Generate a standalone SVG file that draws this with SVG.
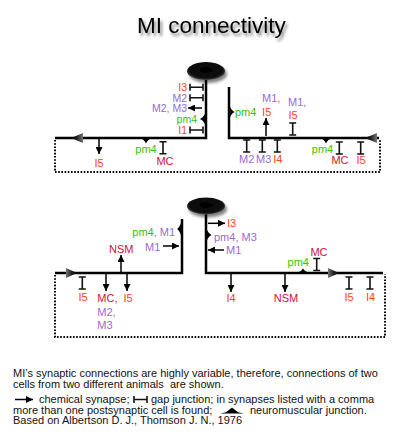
<svg xmlns="http://www.w3.org/2000/svg" width="420" height="443" viewBox="0 0 420 443">
<style>
text{font-family:"Liberation Sans",Arial,sans-serif;font-size:11px}
.sm{font-size:10.5px}
.I{fill:#ff4420}
.M{fill:#9a6ad4}
.P{fill:#33c400}
.C{fill:#d0103c}
.k{fill:#111}
.proc{fill:none;stroke:#000;stroke-width:2.5}
.dot{fill:none;stroke:#000;stroke-width:2;stroke-dasharray:1.6 1.6}
.ch{stroke:#000;stroke-width:1.5;marker-end:url(#ah)}
.gj{fill:none;stroke:#111;stroke-width:1.6}
.nmj{fill:#000}
</style>
<defs>
<marker id="ah" markerUnits="userSpaceOnUse" markerWidth="7" markerHeight="7" refX="7" refY="3.5" orient="auto">
<path d="M0,0 L7,3.5 L0,7 z" fill="#000"/>
</marker>
<path id="gjv" class="gj" d="M0,-6 V6 M-3.5,-6 H3.5 M-3.5,6 H3.5"/>
<path id="gjh" class="gj" d="M-6.5,0 H6.5 M-6.5,-3.5 V3.5 M6.5,-3.5 V3.5"/>
<linearGradient id="tl" x1="0" y1="0" x2="1" y2="0"><stop offset="0" stop-color="#000"/><stop offset="0.5" stop-color="#222"/><stop offset="1" stop-color="#777"/></linearGradient>
<linearGradient id="tr" x1="1" y1="0" x2="0" y2="0"><stop offset="0" stop-color="#000"/><stop offset="0.5" stop-color="#222"/><stop offset="1" stop-color="#777"/></linearGradient>
<radialGradient id="soma" cx="0.5" cy="0.45" r="0.55"><stop offset="0" stop-color="#000"/><stop offset="0.8" stop-color="#111"/><stop offset="1" stop-color="#444"/></radialGradient>
<filter id="sh" x="-20%" y="-40%" width="140%" height="200%">
<feGaussianBlur in="SourceAlpha" stdDeviation="1.8"/>
<feOffset dx="2" dy="3" result="b"/>
<feComponentTransfer><feFuncA type="linear" slope="0.5"/></feComponentTransfer>
<feMerge><feMergeNode/><feMergeNode in="SourceGraphic"/></feMerge>
</filter>
</defs>
<rect width="420" height="443" fill="#fff"/>
<g id="title"><text x="137" y="33" style="font-size:22.5px" fill="#000" filter="url(#sh)">MI connectivity</text></g>

<g id="connectors">
<!-- top animal -->
<path class="proc" d="M206,72 V138 H55"/>
<path class="proc" d="M229,87 V138 H379"/>
<path class="dot" d="M55,140 V172 H380 V139"/>
<polygon points="71,138 83,133 83,143" fill="url(#tl)"/>
<polygon points="365,138 377,133 377,143" fill="url(#tl)"/>
<use href="#gjh" x="196.5" y="87.3"/>
<use href="#gjh" x="196.5" y="97.7"/>
<use href="#gjh" x="196.5" y="130"/>
<line class="ch" x1="202" y1="108" x2="188" y2="108"/>
<path class="nmj" d="M205,114 Q203,118 200,119 Q203,120 205,124 z"/>
<line class="ch" x1="99" y1="139" x2="99" y2="154"/>
<path class="nmj" d="M140,138 Q144,139 146,143.5 Q148,139 152,138 z"/>
<use href="#gjv" x="163" y="147.7"/>
<path class="nmj" d="M230,107 Q232,111 234.5,112 Q232,113 230,117 z"/>
<line class="ch" x1="266" y1="136" x2="266" y2="118"/>
<use href="#gjv" x="292.7" y="129"/>
<use href="#gjv" x="246.7" y="146"/>
<use href="#gjv" x="262.3" y="146"/>
<use href="#gjv" x="277.3" y="146"/>
<path class="nmj" d="M320,138 Q324,139 326,143.5 Q328,139 332,138 z"/>
<use href="#gjv" x="339.3" y="148"/>
<use href="#gjv" x="360.7" y="148"/>
<!-- bottom animal -->
<path class="proc" d="M206,206 V273 H383"/>
<path class="proc" d="M182,219 V273 H55"/>
<path class="dot" d="M55,275 V337 H385 V274"/>
<polygon points="77,273 66,268 66,278" fill="url(#tr)"/>
<polygon points="339,273 328,268 328,278" fill="url(#tr)"/>
<path class="nmj" d="M181,223 Q179,228 177,229 Q179,230 181,235 z"/>
<line class="ch" x1="163" y1="246" x2="179" y2="246"/>
<line class="ch" x1="121" y1="272" x2="121" y2="255"/>
<use href="#gjv" x="82.3" y="283"/>
<line class="ch" x1="106" y1="274" x2="106" y2="291"/>
<line class="ch" x1="127" y1="274" x2="127" y2="291"/>
<line class="ch" x1="208" y1="223.3" x2="225" y2="223.3"/>
<path class="nmj" d="M207,230 Q209,234 211.5,235 Q209,236 207,240 z"/>
<line class="ch" x1="224" y1="250" x2="208" y2="250"/>
<line class="ch" x1="231" y1="274" x2="231" y2="292"/>
<line class="ch" x1="285" y1="274" x2="285" y2="292"/>
<path class="nmj" d="M297,273 Q301,272 303,268.5 Q305,272 309,273 z"/>
<use href="#gjv" x="316.7" y="264.5"/>
<use href="#gjv" x="349" y="283"/>
<use href="#gjv" x="370" y="283"/>
</g>

<g id="soma-top"><ellipse cx="206" cy="71" rx="19" ry="9" fill="url(#soma)" filter="url(#sh)"/></g>
<g id="soma-bottom"><ellipse cx="206" cy="206" rx="19" ry="8.5" fill="url(#soma)" filter="url(#sh)"/></g>

<g id="labels-top">
<text class="I sm" x="187" y="91" text-anchor="end">I3</text>
<text class="M sm" x="187" y="101.5" text-anchor="end">M2</text>
<text class="M sm" x="187" y="112" text-anchor="end">M2, M3</text>
<text class="P sm" x="197" y="122.7" text-anchor="end">pm4</text>
<text class="I sm" x="187" y="134" text-anchor="end">I1</text>
<text class="I" x="99" y="166.7" text-anchor="middle">I5</text>
<text class="P" x="146" y="152.8" text-anchor="middle">pm4</text>
<text class="C" x="165" y="164.7" text-anchor="middle">MC</text>
<text class="P" x="235" y="116">pm4</text>
<text class="M" x="262" y="102.3">M1,</text>
<text class="I" x="266.7" y="115.7" text-anchor="middle">I5</text>
<text class="M" x="288" y="105.7">M1,</text>
<text class="I" x="293" y="119" text-anchor="middle">I5</text>
<text class="M" x="246.7" y="163.3" text-anchor="middle">M2</text>
<text class="M" x="263.7" y="163.3" text-anchor="middle">M3</text>
<text class="I" x="277.8" y="163.3" text-anchor="middle">I4</text>
<text class="P" x="322.5" y="152.8" text-anchor="middle">pm4</text>
<text class="C" x="340" y="164" text-anchor="middle">MC</text>
<text class="I" x="361" y="164" text-anchor="middle">I5</text>
</g>

<g id="labels-bottom">
<text x="132.3" y="235.7"><tspan class="P">pm4</tspan><tspan class="M">, M1</tspan></text>
<text class="M" x="145" y="251.3">M1</text>
<text class="C" x="121.3" y="253.3" text-anchor="middle">NSM</text>
<text class="I" x="83" y="300.7" text-anchor="middle">I5</text>
<text class="C" x="97.3" y="302.3">MC,</text>
<text class="M" x="97.3" y="315.7">M2,</text>
<text class="M" x="97.3" y="329">M3</text>
<text class="I" x="128" y="302.3" text-anchor="middle">I5</text>
<text class="I" x="227" y="227.3">I3</text>
<text class="M" x="214" y="240.7">pm4, M3</text>
<text class="M" x="226" y="254">M1</text>
<text class="I" x="231" y="302.3" text-anchor="middle">I4</text>
<text class="C" x="286" y="302.3" text-anchor="middle">NSM</text>
<text class="P" x="298.3" y="266" text-anchor="middle">pm4</text>
<text class="C" x="319" y="255.7" text-anchor="middle">MC</text>
<text class="I" x="349" y="300.7" text-anchor="middle">I5</text>
<text class="I" x="370.5" y="300.7" text-anchor="middle">I4</text>
</g>

<g id="legend">
<text class="k" x="13" y="376.5">MI’s synaptic connections are highly variable, therefore, connections of two</text>
<text class="k" x="13" y="387.5" xml:space="preserve">cells from two different animals  are shown.</text>
<line class="ch" x1="15" y1="399.5" x2="33" y2="399.5"/>
<text class="k" x="39" y="403">chemical synapse;</text>
<use href="#gjh" x="140.5" y="399.5"/>
<text class="k" x="151" y="403">gap junction; in synapses listed with a comma</text>
<text class="k" x="13" y="413.5">more than one postsynaptic cell is found;</text>
<path class="nmj" d="M220,413.5 L226,412.3 L232,407.5 L238,412.3 L244,413.5 Z"/>
<text class="k" x="250" y="413.5">neuromuscular junction.</text>
<text class="k" x="13" y="424">Based on Albertson D. J., Thomson J. N., 1976</text>
</g>
</svg>
